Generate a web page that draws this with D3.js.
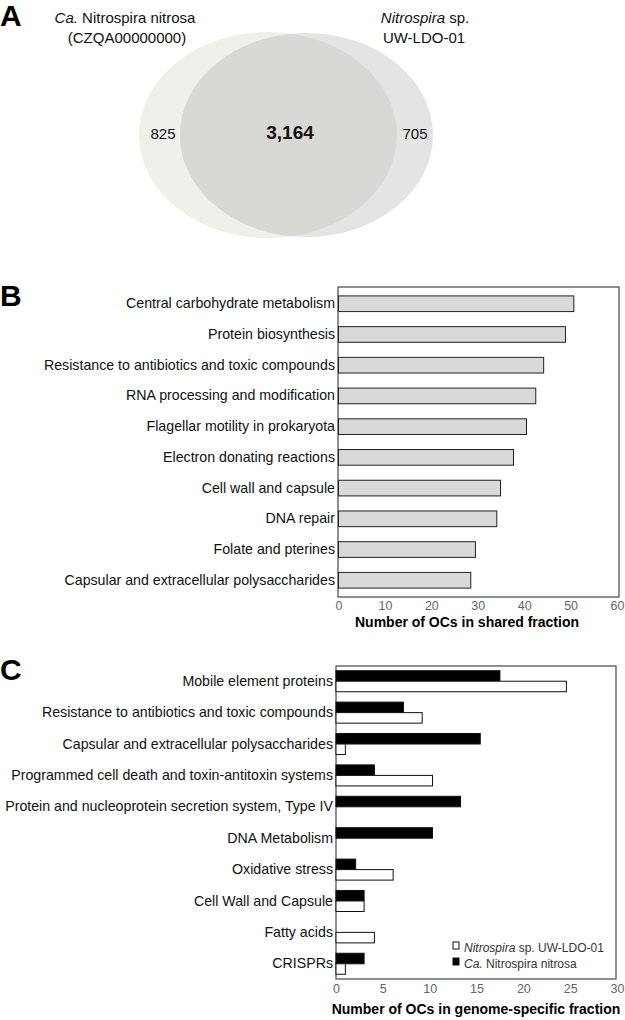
<!DOCTYPE html>
<html><head><meta charset="utf-8">
<script src="https://cdn.jsdelivr.net/npm/d3@7"></script>
<style>
body{margin:0;background:#fff;}
svg{display:block;font-family:"Liberation Sans",Arial,Helvetica,sans-serif;}
</style></head><body>
<svg id="chart" width="625" height="1020"></svg>
<script>
// ---------- DATA ----------
const vennLabels = ["825", "3,164", "705"];
const vennValues = [825, 3164, 705];

const sharedCategories = [
  "Central carbohydrate metabolism",
  "Protein biosynthesis",
  "Resistance to antibiotics and toxic compounds",
  "RNA processing and modification",
  "Flagellar motility in prokaryota",
  "Electron donating reactions",
  "Cell wall and capsule",
  "DNA repair",
  "Folate and pterines",
  "Capsular and extracellular polysaccharides"
];
const sharedValues = [50.7, 48.9, 44.2, 42.5, 40.5, 37.7, 34.9, 34.1, 29.5, 28.5];
const sharedTicks = [0, 10, 20, 30, 40, 50, 60];

const specificCategories = [
  "Mobile element proteins",
  "Resistance to antibiotics and toxic compounds",
  "Capsular and extracellular polysaccharides",
  "Programmed cell death and toxin-antitoxin systems",
  "Protein and nucleoprotein secretion system, Type IV",
  "DNA Metabolism",
  "Oxidative stress",
  "Cell Wall and Capsule",
  "Fatty acids",
  "CRISPRs"
];
const nitrosaValues = [17.5, 7.2, 15.4, 4.1, 13.3, 10.3, 2.1, 3.0, 0, 3.0];
const uwValues      = [24.6, 9.2, 1.0, 10.3, 0, 0, 6.1, 3.0, 4.1, 1.0];
const specificTicks = [0, 5, 10, 15, 20, 25, 30];

// ---------- DRAW ----------
const svg = d3.select("#chart");
const FONT = '"Liberation Sans",Arial,Helvetica,sans-serif';

function panelLetter(t, x, y) {
  svg.append("text").attr("x", x).attr("y", y).text(t)
    .attr("font-size", 30).attr("font-weight", "bold").attr("fill", "#000");
}

// ===== Panel A : Venn =====
panelLetter("A", 0, 26);
const defs = svg.append("defs");
const L = {cx: 268, cy: 135, rx: 129, ry: 103};
const R = {cx: 306.5, cy: 135, rx: 126.5, ry: 102};
defs.append("clipPath").attr("id", "clipL")
  .append("ellipse").attr("cx", L.cx).attr("cy", L.cy).attr("rx", L.rx).attr("ry", L.ry);
svg.append("ellipse").attr("cx", L.cx).attr("cy", L.cy).attr("rx", L.rx).attr("ry", L.ry)
  .attr("fill", "#f0efea");
svg.append("ellipse").attr("cx", R.cx).attr("cy", R.cy).attr("rx", R.rx).attr("ry", R.ry)
  .attr("fill", "#e4e4e4");
svg.append("ellipse").attr("cx", R.cx).attr("cy", R.cy).attr("rx", R.rx).attr("ry", R.ry)
  .attr("fill", "#d9d8d4").attr("clip-path", "url(#clipL)");

const t1 = svg.append("text").attr("x", 125).attr("y", 23).attr("text-anchor", "middle")
  .attr("font-size", 15).attr("fill", "#111");
t1.append("tspan").attr("font-style", "italic").text("Ca.");
t1.append("tspan").text(" Nitrospira nitrosa");
svg.append("text").attr("x", 127).attr("y", 43).attr("text-anchor", "middle")
  .attr("font-size", 15).attr("fill", "#111").text("(CZQA00000000)");
const t2 = svg.append("text").attr("x", 425).attr("y", 23).attr("text-anchor", "middle")
  .attr("font-size", 15).attr("fill", "#111");
t2.append("tspan").attr("font-style", "italic").text("Nitrospira");
t2.append("tspan").text(" sp.");
svg.append("text").attr("x", 424).attr("y", 43).attr("text-anchor", "middle")
  .attr("font-size", 15).attr("fill", "#111").text("UW-LDO-01");

const vennX = [163, 290, 415];
vennLabels.forEach((lab, i) => {
  svg.append("text").attr("x", vennX[i]).attr("y", 139).attr("text-anchor", "middle")
    .attr("font-size", i === 1 ? 19 : 15).attr("font-weight", i === 1 ? "bold" : "normal")
    .attr("fill", "#111").text(lab);
});

// ===== Panel B =====
panelLetter("B", 0, 306);
const bBox = {x0: 338, x1: 619, y0: 287, y1: 597};
const xB = d3.scaleLinear().domain([0, 60]).range([338.5, 617]);
const yB = d3.scaleBand().domain(sharedCategories).range([bBox.y0, bBox.y1])
  .paddingInner(0.49).paddingOuter(0.29);
const gB = svg.append("g");
gB.append("rect").attr("x", bBox.x0).attr("y", bBox.y0)
  .attr("width", bBox.x1 - bBox.x0).attr("height", bBox.y1 - bBox.y0)
  .attr("fill", "none").attr("stroke", "#555").attr("stroke-width", 1.3);
gB.selectAll("rect.bar").data(sharedCategories).join("rect").attr("class", "bar")
  .attr("x", xB(0)).attr("y", d => yB(d))
  .attr("width", (d, i) => xB(sharedValues[i]) - xB(0)).attr("height", yB.bandwidth())
  .attr("fill", "#d9d9d9").attr("stroke", "#222").attr("stroke-width", 1);
const yAxisB = d3.axisLeft(yB).tickSize(0).tickPadding(3);
const gyB = gB.append("g").attr("transform", `translate(${bBox.x0},0)`).call(yAxisB);
gyB.select(".domain").remove();
gyB.selectAll("text").attr("font-size", 14.2).attr("font-family", FONT).attr("fill", "#111");
const xAxisB = d3.axisBottom(xB).tickValues(sharedTicks).tickSize(0).tickPadding(4);
const gxB = gB.append("g").attr("transform", `translate(0,${bBox.y1})`).call(xAxisB);
gxB.select(".domain").remove();
gxB.selectAll("text").attr("font-size", 12.5).attr("font-family", FONT).attr("fill", "#666");
gB.append("text").attr("x", 467).attr("y", 627).attr("text-anchor", "middle")
  .attr("font-size", 14).attr("font-weight", "bold").attr("fill", "#000")
  .text("Number of OCs in shared fraction");

// ===== Panel C =====
panelLetter("C", 0, 680);
const cBox = {x0: 336, x1: 616, y0: 666, y1: 979};
const xC = d3.scaleLinear().domain([0, 30]).range([336, 617]);
const yC = d3.scaleBand().domain(specificCategories).range([cBox.y0, cBox.y1])
  .paddingInner(0.33).paddingOuter(0.15);
const series = ["nitrosa", "uw"];
const ySub = d3.scaleBand().domain(series).range([0, yC.bandwidth()]);
const gC = svg.append("g");
gC.append("rect").attr("x", cBox.x0).attr("y", cBox.y0)
  .attr("width", cBox.x1 - cBox.x0).attr("height", cBox.y1 - cBox.y0)
  .attr("fill", "none").attr("stroke", "#555").attr("stroke-width", 1.3);
const rows = specificCategories.map((c, i) => ({c, nitrosa: nitrosaValues[i], uw: uwValues[i]}));
const grp = gC.selectAll("g.row").data(rows).join("g").attr("class", "row")
  .attr("transform", d => `translate(0,${yC(d.c)})`);
grp.selectAll("rect").data(d => series.map(s => ({s, v: d[s]})).filter(e => e.v > 0))
  .join("rect")
  .attr("x", xC(0)).attr("y", e => ySub(e.s))
  .attr("width", e => xC(e.v) - xC(0)).attr("height", ySub.bandwidth())
  .attr("fill", e => e.s === "nitrosa" ? "#000" : "#fff")
  .attr("stroke", "#111").attr("stroke-width", 1);
const yAxisC = d3.axisLeft(yC).tickSize(0).tickPadding(3);
const gyC = gC.append("g").attr("transform", `translate(${cBox.x0},0)`).call(yAxisC);
gyC.select(".domain").remove();
gyC.selectAll("text").attr("font-size", 14.2).attr("font-family", FONT).attr("fill", "#111");
const xAxisC = d3.axisBottom(xC).tickValues(specificTicks).tickSize(0).tickPadding(5);
const gxC = gC.append("g").attr("transform", `translate(0,${cBox.y1})`).call(xAxisC);
gxC.select(".domain").remove();
gxC.selectAll("text").attr("font-size", 12.5).attr("font-family", FONT).attr("fill", "#666");
gC.append("text").attr("x", 476).attr("y", 1014).attr("text-anchor", "middle")
  .attr("font-size", 14).attr("font-weight", "bold").attr("fill", "#000")
  .text("Number of OCs in genome-specific fraction");

// legend
const legend = [
  {s: "uw", fill: "#fff", italic: "Nitrospira", rest: " sp. UW-LDO-01"},
  {s: "nitrosa", fill: "#000", italic: "Ca.", rest: " Nitrospira nitrosa"}
];
const lg = gC.selectAll("g.leg").data(legend).join("g").attr("class", "leg")
  .attr("transform", (d, i) => `translate(453,${942 + i * 16})`);
lg.append("rect").attr("x", 0).attr("y", 0).attr("width", 6).attr("height", 7)
  .attr("fill", d => d.fill).attr("stroke", "#111").attr("stroke-width", 1);
const lt = lg.append("text").attr("x", 11).attr("y", 9.5).attr("font-size", 12).attr("fill", "#333");
lt.append("tspan").attr("font-style", "italic").text(d => d.italic);
lt.append("tspan").text(d => d.rest);
</script>
</body></html>
